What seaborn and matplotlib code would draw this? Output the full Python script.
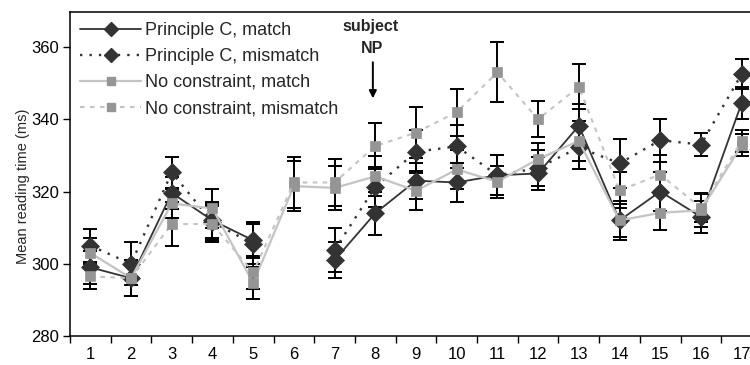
import numpy as np
import pandas as pd
import matplotlib
matplotlib.use("Agg")
import matplotlib.pyplot as plt
from matplotlib.lines import Line2D
import seaborn as sns

regions = list(range(1, 18))
tick_labels = [str(r) for r in regions]

pc_match = [299, 296, 319.6, 312, 306.5, np.nan, 301, 314, 323, 322.5, 324.5, 325, 338.2, 312, 320, 313, 344.5]
pc_mismatch = [305, 300, 325.3, 311.5, 305.5, np.nan, 303.8, 321.3, 331, 332.5, 324.5, 326.5, 332.2, 327.8, 334.2, 333, 352.5]
nc_match = [303, 296, 316.7, 315.3, 294.7, 321.5, 321, 324.2, 320.2, 326.1, 322.7, 329, 334, 312, 314.1, 314.8, 332.8]
nc_mismatch = [296.5, 296, 311, 311, 297.6, 322.5, 322.5, 332.6, 336.3, 342, 353, 340, 349, 320.3, 324.7, 315.5, 334]

pc_match_err = [4.5, 5, 4.5, 5, 5, np.nan, 5, 6, 5, 5.3, 5.5, 4.5, 6, 5.5, 5.5, 4.5, 4.5]
pc_mismatch_err = [4.5, 6, 4.3, 5, 5.5, np.nan, 6, 5.5, 6, 6, 5.5, 5, 6, 6.7, 6, 3.3, 4.2]
nc_match_err = [4, 5, 4, 5.3, 4.5, 7, 6, 5.5, 5.4, 5.5, 4.5, 4.5, 5.5, 4.5, 4.8, 4.5, 3]
nc_mismatch_err = [3.5, 5, 6, 5, 4.5, 7, 6.5, 6.5, 7, 6.5, 8.3, 5, 6.2, 5, 5.5, 4, 3]

labels = ["Principle C, match", "Principle C, mismatch",
          "No constraint, match", "No constraint, mismatch"]

sns.set_theme(style="white")
plt.rcParams['font.family'] = ['Liberation Sans', 'DejaVu Sans']

fig = plt.figure(figsize=(7.5, 3.65), dpi=100)
ax = fig.add_axes([70 / 750, 29 / 365, 692 / 750, 324 / 365])

dark = "#333333"
light_line = "#c4c4c4"
sq = "#959595"

styles = [
    dict(color=dark, linestyle="-", lw=1.3, marker="D", mfc=dark, ms=9, lms=7),
    dict(color=dark, linestyle=(0, (1, 3)), lw=1.7, marker="D", mfc=dark, ms=9, lms=7),
    dict(color=light_line, linestyle="-", lw=1.6, marker="s", mfc=sq, ms=7.5, lms=5.5),
    dict(color=light_line, linestyle=(0, (2.2, 2.6)), lw=1.5, marker="s", mfc=sq, ms=7.5, lms=5.5),
]
series = [pc_match, pc_mismatch, nc_match, nc_mismatch]
errs = [pc_match_err, pc_mismatch_err, nc_match_err, nc_mismatch_err]

for vals, err in zip(series, errs):
    ax.errorbar(regions, vals, yerr=err, fmt="none", ecolor="black",
                elinewidth=1.4, capsize=5, capthick=1.4, zorder=2)

handles = []
for vals, st, lab in zip(series, styles, labels):
    seg = []
    s = 0
    for v in vals:
        if np.isnan(v):
            s += 1
        seg.append(s)
    df = pd.DataFrame({"region": regions, "rt": vals, "seg": seg})
    sns.lineplot(data=df, x="region", y="rt", units="seg", estimator=None,
                 color=st["color"], linestyle=st["linestyle"], linewidth=st["lw"],
                 marker=st["marker"], markerfacecolor=st["mfc"],
                 markeredgecolor=st["mfc"], markersize=st["ms"],
                 markeredgewidth=0.5, ax=ax, legend=False, zorder=3)
    handles.append(Line2D([0], [0], color=st["color"], linestyle=st["linestyle"],
                          linewidth=st["lw"], marker=st["marker"],
                          markerfacecolor=st["mfc"], markeredgecolor=st["mfc"],
                          markersize=st["lms"]))

ax.set_xlim(0.5, 17.5)
ax.set_ylim(280, 369.7)
ax.set_yticks([280, 300, 320, 340, 360])
ax.set_xticks(regions)
ax.set_xticklabels(tick_labels)
ax.set_xticks(np.arange(0.5, 17.6, 1), minor=True)
ax.tick_params(axis="x", which="major", length=0, labelsize=12, pad=8, colors="black")
ax.tick_params(axis="x", which="minor", length=5, width=1, direction="out", color="black", bottom=True)
ax.tick_params(axis="y", length=5, width=1, direction="out", labelsize=12, colors="black", left=True, pad=3)
ax.set_xlabel("")
ax.set_ylabel("Mean reading time (ms)", fontsize=10.5)
ax.yaxis.set_label_coords(-0.058, 0.463)
for sp in ax.spines.values():
    sp.set_color("black")
    sp.set_linewidth(1.1)

ax.text(7.88, 365.6, "subject", ha="center", va="center", fontsize=11.5, fontweight="bold")
ax.text(7.92, 359.5, "NP", ha="center", va="center", fontsize=11.5, fontweight="bold")
ax.annotate("", xy=(7.94, 345.8), xytext=(7.94, 355.8),
            arrowprops=dict(arrowstyle="-|>", color="black", lw=1.4,
                            mutation_scale=11, shrinkA=0, shrinkB=0))

ax.legend(handles=handles, labels=labels, loc="upper left", frameon=False,
          fontsize=13, handlelength=3.4, labelspacing=0.5, handletextpad=0.2,
          borderaxespad=0.1, borderpad=0.45, bbox_to_anchor=(0.0, 1.0))

fig.savefig("out.png", dpi=100)
